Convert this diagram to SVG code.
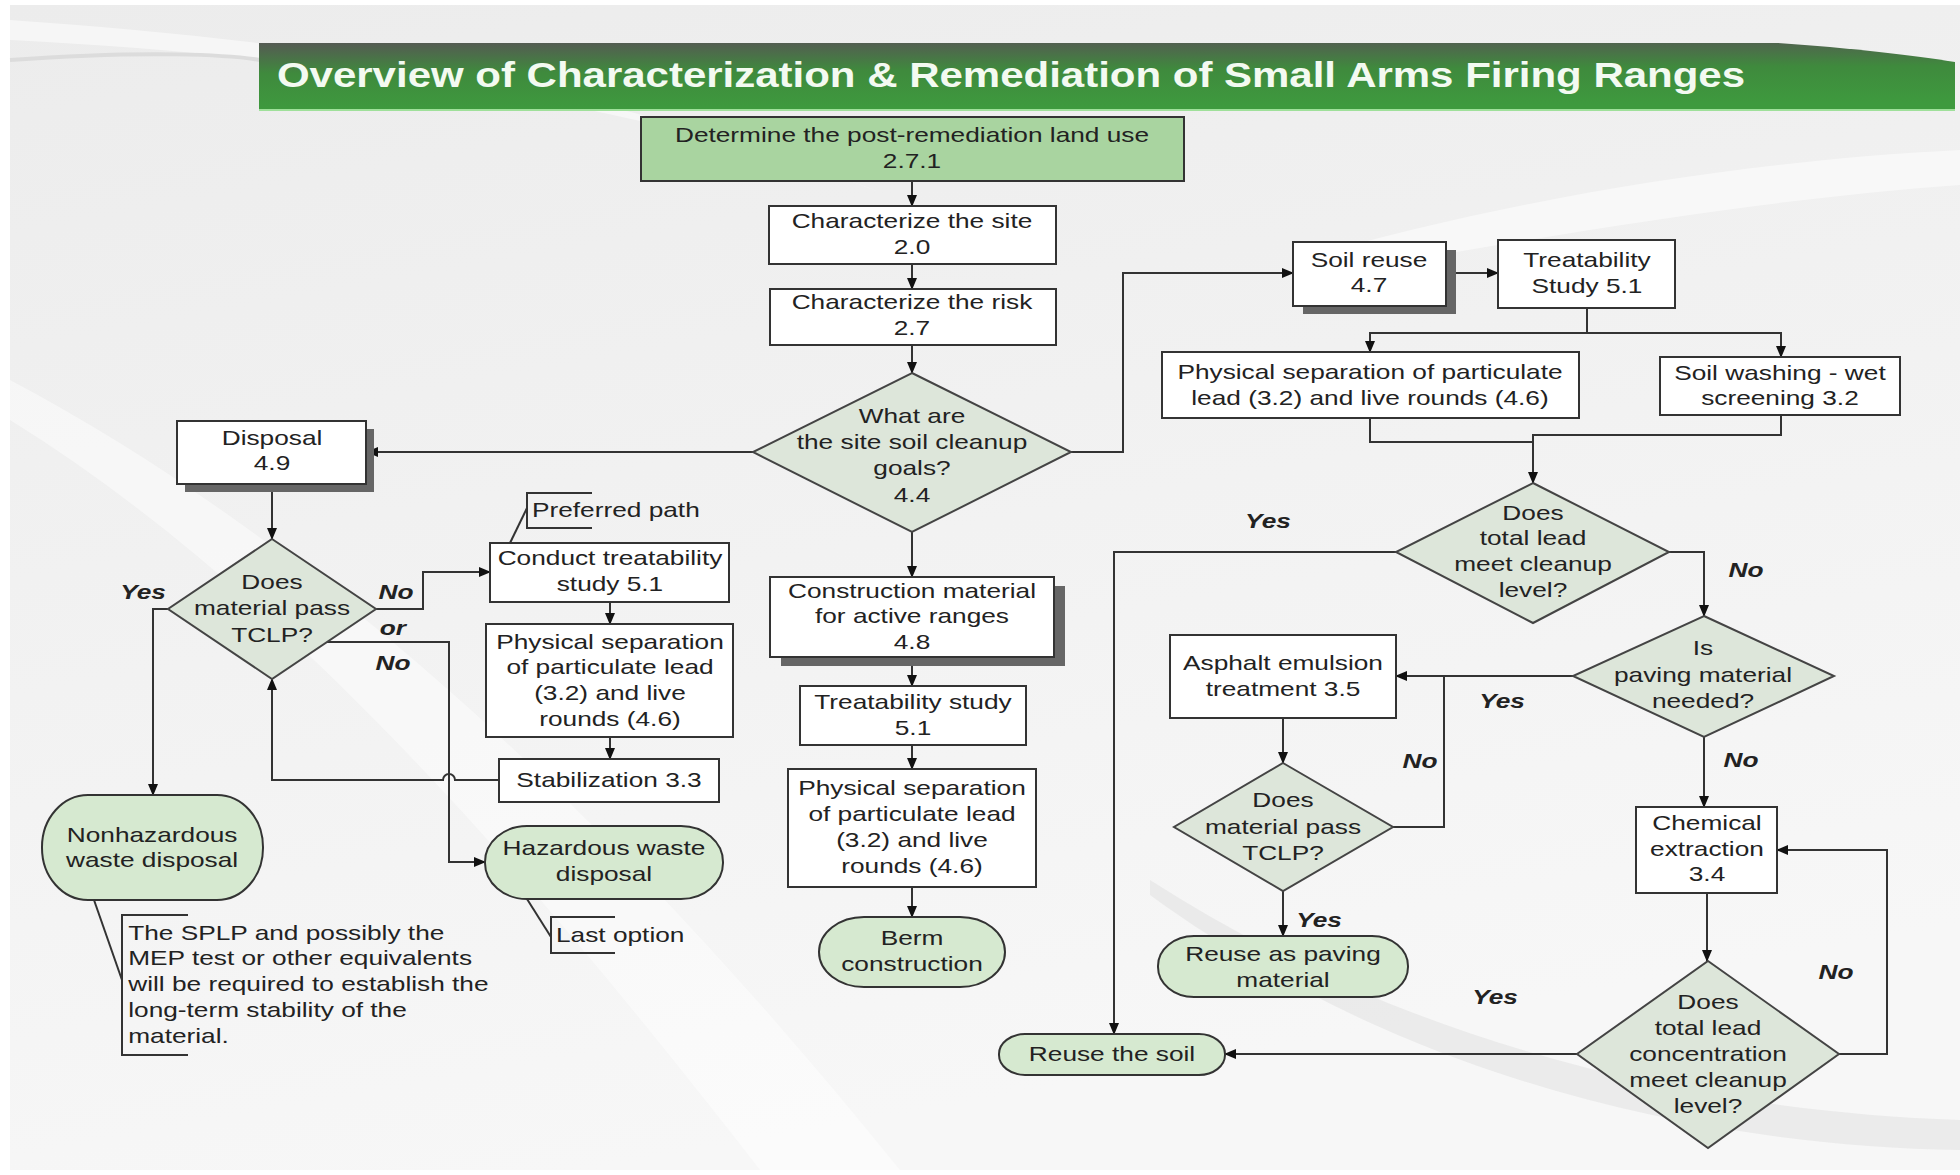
<svg xmlns="http://www.w3.org/2000/svg" width="1960" height="1175" viewBox="0 0 1960 1175">
<defs>
<linearGradient id="bgg" x1="0" y1="0" x2="0.3" y2="1">
<stop offset="0" stop-color="#ececec"/>
<stop offset="1" stop-color="#f7f7f7"/>
</linearGradient>
<linearGradient id="ban" x1="0" y1="0" x2="0.12" y2="1">
<stop offset="0" stop-color="#555a53"/>
<stop offset="0.45" stop-color="#3f8a3d"/>
<stop offset="1" stop-color="#3e9a3e"/>
</linearGradient>
<marker id="ah" markerWidth="12" markerHeight="10" refX="11" refY="5" orient="auto" markerUnits="userSpaceOnUse">
<path d="M0,0 L12,5 L0,10 z" fill="#111"/>
</marker>
<style>
.n{fill:#ffffff;stroke:#333;stroke-width:2}
.g{fill:#a9d4a0;stroke:#333;stroke-width:2}
.d{fill:#dde6da;stroke:#444;stroke-width:2}
.term{fill:#d6e9d0;stroke:#333;stroke-width:2}
.sh{fill:#666}
.c{fill:none;stroke:#333;stroke-width:2}
.a{marker-end:url(#ah)}
.br{fill:none;stroke:#333;stroke-width:2}
text{font-family:"Liberation Sans",Arial,Helvetica,sans-serif;font-size:21px;fill:#222;transform-box:fill-box;transform:scaleX(1.25)}
.m{text-anchor:middle;transform-origin:50% 50%}
.l{text-anchor:start;transform-origin:0% 50%}
.lb{font-weight:bold;font-style:italic;text-anchor:middle;transform-origin:50% 50%}
.title{font-size:35px;font-weight:bold;fill:#f3faf1;text-anchor:middle;transform-origin:50% 50%;transform:scaleX(1.2)}
</style>
</defs>

<g id="background">
<rect x="0" y="0" width="1960" height="1175" fill="#ffffff"/>
<rect x="10" y="5" width="1950" height="1165" fill="url(#bgg)"/>
<path d="M10,20 C300,40 600,80 900,200 C700,120 400,60 10,40 z" fill="#ffffff" opacity="0.5"/>
<path d="M10,60 C150,50 230,55 260,60" fill="none" stroke="#dcdcdc" stroke-width="4"/>
<path d="M10,420 C300,600 550,900 760,1170 L900,1170 C650,860 350,560 10,380 z" fill="#ffffff" opacity="0.45"/>
<path d="M1150,880 C1400,1040 1680,1110 1960,1120 L1960,1150 C1680,1145 1390,1070 1150,895 z" fill="#e2e2e2" opacity="0.6"/>
<path d="M1300,260 C1500,200 1750,160 1960,150 L1960,185 C1750,200 1520,240 1300,280 z" fill="#ffffff" opacity="0.5"/>
</g>

<g id="title">
<path d="M259,43 H1777 C1850,48 1910,55 1955,62 V110 H259 z" fill="url(#ban)"/>
<line x1="259" y1="110" x2="1955" y2="110" stroke="#9fe09a" stroke-width="2"/>
<text class="title" x="1011" y="87">Overview of Characterization &amp; Remediation of Small Arms Firing Ranges</text>
</g>

<g id="connectors">
<path class="c a" d="M912,181 V206"/>
<path class="c a" d="M912,264 V289"/>
<path class="c a" d="M912,345 V373"/>
<path class="c a" d="M912,532 V577"/>
<path class="c a" d="M912,657 V686"/>
<path class="c a" d="M912,745 V769"/>
<path class="c a" d="M912,887 V917"/>
<path class="c a" d="M753,452 H367"/>
<path class="c a" d="M1071,452 H1123 V273 H1293"/>
<path class="c a" d="M1446,273 H1498"/>
<path class="c" d="M1587,308 V333"/>
<path class="c a" d="M1587,333 H1370 V352"/>
<path class="c a" d="M1587,333 H1781 V357"/>
<path class="c" d="M1370,418 V442 H1533"/>
<path class="c a" d="M1781,415 V435 H1533 V483"/>
<path class="c a" d="M1396,552 H1114 V1034"/>
<path class="c a" d="M1668,552 H1704 V616"/>
<path class="c a" d="M1573,676 H1396"/>
<path class="c a" d="M1283,718 V763"/>
<path class="c" d="M1393,827 H1444 V676"/>
<path class="c a" d="M1283,891 V936"/>
<path class="c a" d="M1704,737 V807"/>
<path class="c a" d="M1707,893 V961"/>
<path class="c a" d="M1839,1054 H1887 V850 H1777"/>
<path class="c a" d="M1577,1054 H1225"/>
<path class="c a" d="M272,484 V539"/>
<path class="c a" d="M168,609 H153 V795"/>
<path class="c a" d="M376,609 H423 V572 H490"/>
<path class="c a" d="M327,642 H449 V862 H485"/>
<path class="c a" d="M610,602 V624"/>
<path class="c a" d="M610,737 V759"/>
<path class="c a" d="M499,780 H455 A6,6 0 0 0 443,780 H272 V679"/>
</g>

<g id="n-landuse">
<rect class="g" x="641" y="117" width="543" height="64"/>
<text class="m" x="912"><tspan x="912" y="142">Determine the post-remediation land use</tspan><tspan x="912" y="168">2.7.1</tspan></text>
</g>
<g id="n-site">
<rect class="n" x="769" y="206" width="287" height="58"/>
<text class="m"><tspan x="912" y="228">Characterize the site</tspan><tspan x="912" y="254">2.0</tspan></text>
</g>
<g id="n-risk">
<rect class="n" x="770" y="289" width="286" height="56"/>
<text class="m"><tspan x="912" y="309">Characterize the risk</tspan><tspan x="912" y="335">2.7</tspan></text>
</g>
<g id="n-goals">
<polygon class="d" points="912,373 1071,452 912,532 753,452"/>
<text class="m"><tspan x="912" y="423">What are</tspan><tspan x="912" y="449">the site soil cleanup</tspan><tspan x="912" y="475">goals?</tspan><tspan x="912" y="502">4.4</tspan></text>
</g>

<g id="n-disposal">
<rect class="sh" x="185" y="429" width="189" height="63"/>
<rect class="n" x="177" y="421" width="189" height="63"/>
<text class="m"><tspan x="272" y="445">Disposal</tspan><tspan x="272" y="470">4.9</tspan></text>
</g>
<g id="n-tclp1">
<polygon class="d" points="272,539 376,609 272,679 168,609"/>
<text class="m"><tspan x="272" y="589">Does</tspan><tspan x="272" y="615">material pass</tspan><tspan x="272" y="642">TCLP?</tspan></text>
</g>
<g id="n-conduct">
<rect class="n" x="490" y="543" width="239" height="59"/>
<text class="m"><tspan x="610" y="565">Conduct treatability</tspan><tspan x="610" y="591">study 5.1</tspan></text>
</g>
<g id="n-phys1">
<rect class="n" x="486" y="624" width="247" height="113"/>
<text class="m"><tspan x="610" y="649">Physical separation</tspan><tspan x="610" y="674">of particulate lead</tspan><tspan x="610" y="700">(3.2) and live</tspan><tspan x="610" y="726">rounds (4.6)</tspan></text>
</g>
<g id="n-stab">
<rect class="n" x="499" y="759" width="220" height="43"/>
<text class="m"><tspan x="609" y="787">Stabilization 3.3</tspan></text>
</g>
<g id="n-nonhaz">
<rect class="term" x="42" y="795" width="221" height="105" rx="46" ry="52"/>
<text class="m"><tspan x="152" y="842">Nonhazardous</tspan><tspan x="152" y="867">waste disposal</tspan></text>
</g>
<g id="n-haz">
<rect class="term" x="485" y="826" width="238" height="73" rx="42" ry="36"/>
<text class="m"><tspan x="604" y="855">Hazardous waste</tspan><tspan x="604" y="881">disposal</tspan></text>
</g>

<g id="a-preferred">
<path class="br" d="M592,493 H527 V528 H592"/>
<path class="br" d="M510,543 L527,508"/>
<text class="l" x="532" y="517">Preferred path</text>
</g>
<g id="a-last">
<path class="br" d="M615,917 H551 V953 H615"/>
<path class="br" d="M527,899 L551,937"/>
<text class="l" x="556" y="942">Last option</text>
</g>
<g id="a-splp">
<path class="br" d="M188,915 H122 V1055 H188"/>
<path class="br" d="M94,900 L122,980"/>
<text class="l"><tspan x="128" y="940">The SPLP and possibly the</tspan><tspan x="128" y="965">MEP test or other equivalents</tspan><tspan x="128" y="991">will be required to establish the</tspan><tspan x="128" y="1017">long-term stability of the</tspan><tspan x="128" y="1043">material.</tspan></text>
</g>

<g id="n-construct">
<rect class="sh" x="781" y="586" width="284" height="80"/>
<rect class="n" x="770" y="577" width="284" height="80"/>
<text class="m"><tspan x="912" y="598">Construction material</tspan><tspan x="912" y="623">for active ranges</tspan><tspan x="912" y="649">4.8</tspan></text>
</g>
<g id="n-treat2">
<rect class="n" x="800" y="686" width="226" height="59"/>
<text class="m"><tspan x="913" y="709">Treatability study</tspan><tspan x="913" y="735">5.1</tspan></text>
</g>
<g id="n-phys2">
<rect class="n" x="788" y="769" width="248" height="118"/>
<text class="m"><tspan x="912" y="795">Physical separation</tspan><tspan x="912" y="821">of particulate lead</tspan><tspan x="912" y="847">(3.2) and live</tspan><tspan x="912" y="873">rounds (4.6)</tspan></text>
</g>
<g id="n-berm">
<rect class="term" x="819" y="917" width="186" height="70" rx="45" ry="35"/>
<text class="m"><tspan x="912" y="945">Berm</tspan><tspan x="912" y="971">construction</tspan></text>
</g>

<g id="n-soilreuse">
<rect class="sh" x="1303" y="250" width="153" height="64"/>
<rect class="n" x="1293" y="242" width="153" height="64"/>
<text class="m"><tspan x="1369" y="267">Soil reuse</tspan><tspan x="1369" y="292">4.7</tspan></text>
</g>
<g id="n-treat3">
<rect class="n" x="1498" y="240" width="177" height="68"/>
<text class="m"><tspan x="1587" y="267">Treatability</tspan><tspan x="1587" y="293">Study 5.1</tspan></text>
</g>
<g id="n-phys3">
<rect class="n" x="1162" y="352" width="417" height="66"/>
<text class="m"><tspan x="1370" y="379">Physical separation of particulate</tspan><tspan x="1370" y="405">lead (3.2) and live rounds (4.6)</tspan></text>
</g>
<g id="n-washing">
<rect class="n" x="1660" y="357" width="240" height="58"/>
<text class="m"><tspan x="1780" y="380">Soil washing - wet</tspan><tspan x="1780" y="405">screening 3.2</tspan></text>
</g>
<g id="n-totallead">
<polygon class="d" points="1533,483 1669,552 1533,623 1396,552"/>
<text class="m"><tspan x="1533" y="520">Does</tspan><tspan x="1533" y="545">total lead</tspan><tspan x="1533" y="571">meet cleanup</tspan><tspan x="1533" y="597">level?</tspan></text>
</g>
<g id="n-paving">
<polygon class="d" points="1704,616 1834,676 1704,737 1573,676"/>
<text class="m"><tspan x="1703" y="655">Is</tspan><tspan x="1703" y="682">paving material</tspan><tspan x="1703" y="708">needed?</tspan></text>
</g>
<g id="n-asphalt">
<rect class="n" x="1170" y="635" width="226" height="83"/>
<text class="m"><tspan x="1283" y="670">Asphalt emulsion</tspan><tspan x="1283" y="696">treatment 3.5</tspan></text>
</g>
<g id="n-tclp2">
<polygon class="d" points="1283,763 1393,827 1283,891 1174,827"/>
<text class="m"><tspan x="1283" y="807">Does</tspan><tspan x="1283" y="834">material pass</tspan><tspan x="1283" y="860">TCLP?</tspan></text>
</g>
<g id="n-paveuse">
<rect class="term" x="1158" y="936" width="250" height="61" rx="36" ry="30"/>
<text class="m"><tspan x="1283" y="961">Reuse as paving</tspan><tspan x="1283" y="987">material</tspan></text>
</g>
<g id="n-chem">
<rect class="n" x="1636" y="807" width="141" height="86"/>
<text class="m"><tspan x="1707" y="830">Chemical</tspan><tspan x="1707" y="856">extraction</tspan><tspan x="1707" y="881">3.4</tspan></text>
</g>
<g id="n-conc">
<polygon class="d" points="1708,961 1839,1054 1708,1148 1577,1054"/>
<text class="m"><tspan x="1708" y="1009">Does</tspan><tspan x="1708" y="1035">total lead</tspan><tspan x="1708" y="1061">concentration</tspan><tspan x="1708" y="1087">meet cleanup</tspan><tspan x="1708" y="1113">level?</tspan></text>
</g>
<g id="n-reusesoil">
<rect class="term" x="999" y="1034" width="226" height="41" rx="26" ry="20"/>
<text class="m"><tspan x="1112" y="1061">Reuse the soil</tspan></text>
</g>

<g id="labels">
<text class="lb" x="143" y="599">Yes</text>
<text class="lb" x="396" y="599">No</text>
<text class="lb" x="393" y="635">or</text>
<text class="lb" x="393" y="670">No</text>
<text class="lb" x="1268" y="528">Yes</text>
<text class="lb" x="1746" y="577">No</text>
<text class="lb" x="1502" y="708">Yes</text>
<text class="lb" x="1420" y="768">No</text>
<text class="lb" x="1741" y="767">No</text>
<text class="lb" x="1319" y="927">Yes</text>
<text class="lb" x="1495" y="1004">Yes</text>
<text class="lb" x="1836" y="979">No</text>
</g>
</svg>
